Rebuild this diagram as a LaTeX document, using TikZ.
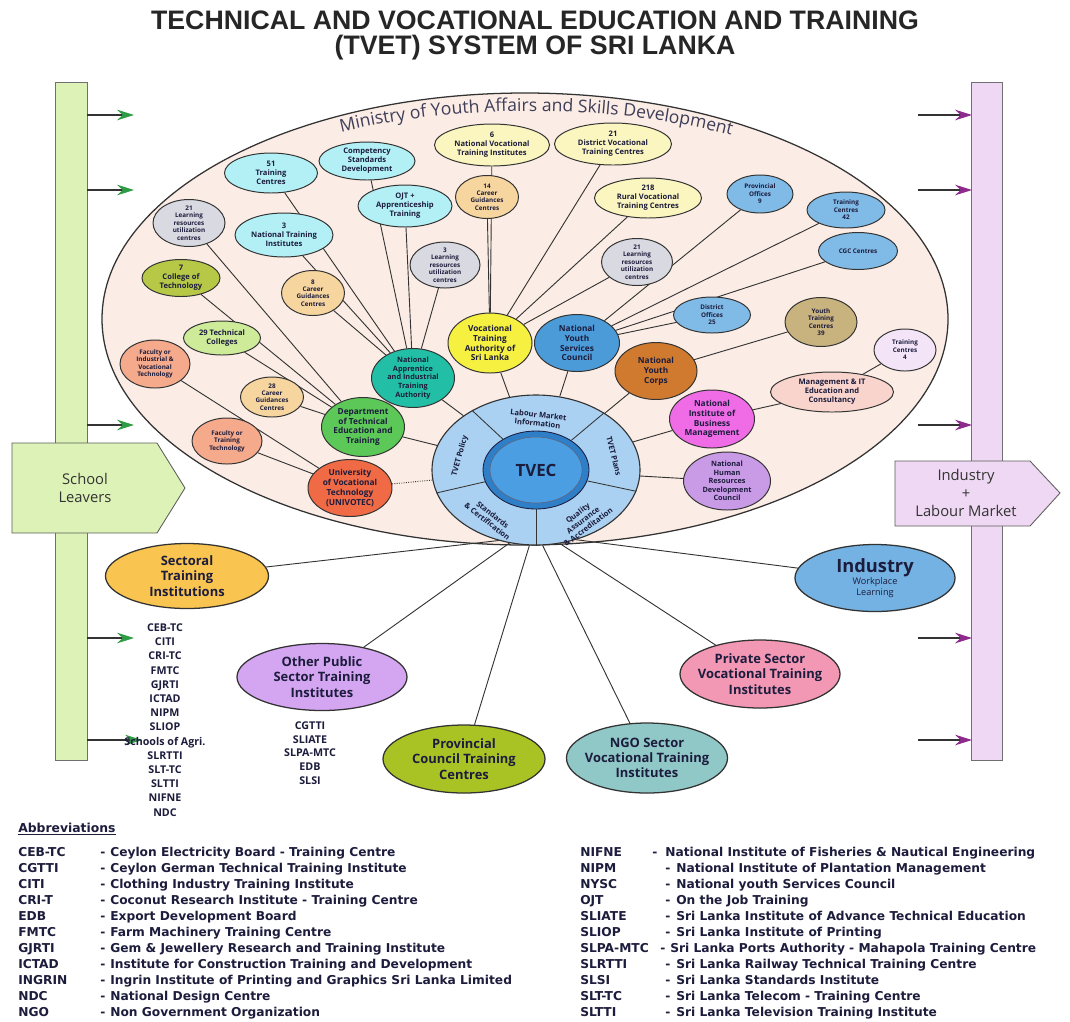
\documentclass[tikz,border=0pt]{standalone}
\usepackage{fontspec}
\setmainfont{Open Sans}
\newfontfamily\titlefont{Liberation Sans}
\newfontfamily\abbrfont{DejaVu Sans}
\usetikzlibrary{shapes.geometric,arrows.meta,decorations.text}
\definecolor{ink}{HTML}{1C1C3C}
\definecolor{edgec}{HTML}{333333}
\definecolor{minfill}{HTML}{FBEDE5}
\definecolor{cCyan}{HTML}{B2F0F6}
\definecolor{cGrey}{HTML}{D9D9E2}
\definecolor{cCream}{HTML}{FBF6BF}
\definecolor{cTan}{HTML}{F6D59F}
\definecolor{cOlive}{HTML}{B6C846}
\definecolor{cLgreen}{HTML}{CDEB98}
\definecolor{cSalmon}{HTML}{F5AA8C}
\definecolor{cGreen}{HTML}{5CC858}
\definecolor{cRed}{HTML}{EF6A45}
\definecolor{cTeal}{HTML}{22BFA6}
\definecolor{cYellow}{HTML}{F6F040}
\definecolor{cNysc}{HTML}{4C9BD9}
\definecolor{cBrown}{HTML}{CF7A2E}
\definecolor{cMagenta}{HTML}{F06CE6}
\definecolor{cLilac}{HTML}{C99AE6}
\definecolor{cSky}{HTML}{80BAE6}
\definecolor{cKhaki}{HTML}{C8B27E}
\definecolor{cLav}{HTML}{F3E4F8}
\definecolor{cPink}{HTML}{F8D4CC}
\definecolor{cSect}{HTML}{F9C44F}
\definecolor{cOpub}{HTML}{D4A6F2}
\definecolor{cProv}{HTML}{A9C324}
\definecolor{cNgo}{HTML}{90C8C8}
\definecolor{cPriv}{HTML}{F298B5}
\definecolor{cInd}{HTML}{73B2E3}
\definecolor{cRing}{HTML}{AAD1F2}
\definecolor{cBand}{HTML}{2F7FC8}
\definecolor{cCore}{HTML}{4B9EE2}
\definecolor{cLbar}{HTML}{DDF2B6}
\definecolor{cRbar}{HTML}{EFD8F3}
\definecolor{cGarrow}{HTML}{2E9B45}
\definecolor{cParrow}{HTML}{8E2A8E}
\pgfdeclarelayer{back}
\pgfdeclarelayer{links}
\pgfsetlayers{back,links,main}
\begin{document}
\begin{tikzpicture}[x=0.025cm,y=-0.025cm,
  sz/.style 2 args={minimum width=#1*0.025cm,minimum height=#2*0.025cm},
  bub/.style={ellipse,draw=edgec,line width=0.7pt,inner sep=0pt,fill=#1},
  bt/.style={align=center,text=ink,font=\fontsize{5.4}{6.3}\selectfont\bfseries,inner sep=0pt},
  bts/.style={bt,font=\fontsize{4.5}{5.3}\selectfont\bfseries},
  btm/.style={bt,font=\fontsize{5.9}{7}\selectfont\bfseries},
  btm5/.style={bt,font=\fontsize{5.2}{6.1}\selectfont\bfseries},
  link/.style={draw=edgec,line width=0.65pt},
  bigbub/.style={ellipse,draw=edgec,line width=0.9pt,inner sep=0pt,fill=#1},
  bigt/.style={align=center,text=ink,font=\fontsize{9.2}{10.8}\selectfont\bfseries,inner sep=0pt},
  indt/.style={align=center,text=ink,font=\fontsize{6.5}{7.5}\selectfont,inner sep=0pt},
  lst/.style={align=center,text=ink,font=\fontsize{7.6}{10.1}\selectfont\bfseries,inner sep=0pt},
  abbr/.style={anchor=base west,text=ink,font=\abbrfont\fontsize{8.7}{10}\selectfont\bfseries,inner sep=0pt},
  ringt/.style={align=center,text=ink,font=\fontsize{5.4}{6.2}\selectfont\bfseries,inner sep=0pt},
  arrtext/.style={align=center,text=black!80,font=\fontsize{10.5}{12.5}\selectfont,inner sep=0pt},
  garrow/.style={draw=edgec,line width=0.8pt,-{Stealth[length=12pt,width=7.5pt,color=cGarrow]}},
  parrow/.style={draw=edgec,line width=0.8pt,-{Stealth[length=12pt,width=7.5pt,color=cParrow]}},
]
\useasboundingbox (0,0) rectangle (1070,1021);
\begin{pgfonlayer}{back}
  \fill[white] (0,0) rectangle (1070,1021);
  % side bars
  \node[draw=edgec!70,line width=0.6pt,fill=cLbar,sz={32}{678},inner sep=0pt] (lbar) at (71,421) {};
  \node[draw=edgec!70,line width=0.6pt,fill=cRbar,sz={31}{678},inner sep=0pt] (rbar) at (987,421) {};
  \draw[fill=cLbar,draw=edgec!80,line width=0.6pt] (12,443) -- (157,443) -- (185,488) -- (157,533) -- (12,533) -- cycle;
  \draw[fill=cRbar,draw=edgec!80,line width=0.6pt] (895,461) -- (1030,461) -- (1060,493) -- (1030,526) -- (895,526) -- cycle;
  \foreach \i/\yy/\xe in {1/115/134,2/190/134,3/425/134,4/638/134,5/740/142}{
    \coordinate (gs\i) at (87,\yy); \coordinate (ge\i) at (\xe,\yy);
    \draw[garrow] (gs\i) -- (ge\i);
    \coordinate (ps\i) at (918,\yy); \coordinate (pe\i) at (972,\yy);
    \draw[parrow] (ps\i) -- (pe\i);
  }
  % ministry ellipse
  \node[ellipse,draw=edgec,line width=0.9pt,fill=minfill,sz={846}{452},inner sep=0pt] (minis) at (525,319) {};
  \path[decorate,decoration={text along path,text align=center,text color=ink!85,
     text={|\fontsize{12.5}{14}\selectfont|Ministry of Youth Affairs and Skills Development}}]
     (530,319) ++(232:428 and 208) arc[start angle=232,end angle=310,x radius=428,y radius=208];
\end{pgfonlayer}

% title
\node[font=\titlefont\bfseries\fontsize{19}{17.8}\selectfont,align=center,text=black!85] (title) at (535,35)
  {TECHNICAL AND VOCATIONAL EDUCATION AND TRAINING\\(TVET) SYSTEM OF SRI LANKA};
\node[arrtext] (sl) at (85,488) {School\\Leavers};
\node[arrtext] (ilm) at (966,493) {Industry\\+\\Labour Market};

% TVEC hub
\node[ellipse,draw=edgec,line width=0.8pt,fill=cRing,sz={208}{150},inner sep=0pt] (tvec) at (536,470) {};
\node[ellipse,draw=ink,line width=0.6pt,fill=cBand,sz={106}{78},inner sep=0pt] (tvecring) at (536,470) {};
\node[ellipse,draw=ink!70,line width=0.4pt,fill=cCore,sz={92}{66},inner sep=0pt,
  label={[text=ink,inner sep=0pt,font=\fontsize{12}{14}\selectfont\bfseries]center:TVEC}] (tvecin) at (536,470) {};
\foreach \a in {137,40,-12,-90,193} \draw[edgec,line width=0.6pt] (tvecring.\a) -- (tvec.\a);
\node[ringt,rotate=-6] (rlmi) at (538,419) {Labour Market\\Information};
\node[ringt,rotate=-76] (rplan) at (614,456) {TVET Plans};
\node[ringt,rotate=75] (rpol) at (460,456) {TVET Policy};
\node[ringt,rotate=-38] (rstd) at (490,518) {Standards\\\& Certification};
\node[ringt,rotate=37] (rqa) at (583,520) {Quality\\Assurance\\\& Accreditation};

% NAITA cluster
\node[bub=cCyan,sz={93}{40},label={[bt]center:{51\\Training\\Centres}}] (n51) at (271,173) {};
\node[bub=cCyan,sz={96}{38},label={[bt]center:{Competency\\Standards\\Development}}] (ncsd) at (367,161) {};
\node[bub=cCyan,sz={94}{42},label={[bt]center:{OJT +\\Apprenticeship\\Training}}] (nojt) at (405,206) {};
\node[bub=cCyan,sz={98}{44},label={[bt]center:{3\\National Training\\Institutes}}] (nnti) at (284,235) {};
\node[bub=cGrey,sz={72}{47},label={[bts]center:{21\\Learning\\resources\\utilization\\centres}}] (nlr1) at (189,223) {};
\node[bub=cGrey,sz={70}{46},label={[bts]center:{3\\Learning\\resources\\utilization\\centres}}] (nlr2) at (445,265) {};
\node[bub=cGrey,sz={71}{47},label={[bts]center:{21\\Learning\\resources\\utilization\\centres}}] (nlr3) at (637,262) {};
\node[bub=cCream,sz={115}{42},label={[bt]center:{6\\National Vocational\\Training Institutes}}] (nnvti) at (492,145) {};
\node[bub=cCream,sz={117}{42},label={[bt]center:{21\\District Vocational\\Training Centres}}] (ndvtc) at (613,144) {};
\node[bub=cCream,sz={107}{40},label={[bt]center:{218\\Rural Vocational\\Training Centres}}] (nrvtc) at (648,198) {};
\node[bub=cTan,sz={63}{43},label={[bts]center:{14\\Career\\Guidances\\Centres}}] (ncg14) at (487,197) {};
\node[bub=cTan,sz={63}{45},label={[bts]center:{8\\Career\\Guidances\\Centres}}] (ncg8) at (313,293) {};
\node[bub=cTan,sz={63}{40},label={[bts]center:{28\\Career\\Guidances\\Centres}}] (ncg28) at (272,397) {};
\node[bub=cOlive,sz={78}{37},label={[bt]center:{7\\College of\\Technology}}] (ncot) at (181,278) {};
\node[bub=cLgreen,sz={77}{34},label={[bt]center:{29 Technical\\Colleges}}] (ntc29) at (222,338) {};
\node[bub=cSalmon,sz={70}{48},label={[bts]center:{Faculty or\\Industrial \&\\Vocational\\Technology}}] (nfiv) at (155,364) {};
\node[bub=cSalmon,sz={70}{46},label={[bts]center:{Faculty or\\Training\\Technology}}] (nftt) at (227,441) {};

% main agencies
\node[bub=cGreen,sz={83}{59},label={[btm]center:{Department\\of Technical\\Education and\\Training}}] (dtet) at (363,427) {};
\node[bub=cRed,sz={84}{57},label={[btm]center:{University\\of Vocational\\Technology\\(UNIVOTEC)}}] (univ) at (350,488) {};
\node[bub=cTeal,sz={83}{59},label={[btm5]center:{National\\Apprentice\\and Industrial\\Training\\Authority}}] (naita) at (413,378) {};
\node[bub=cYellow,sz={84}{60},label={[btm]center:{Vocational\\Training\\Authority of\\Sri Lanka}}] (vta) at (490,343) {};
\node[bub=cNysc,sz={85}{57},label={[btm]center:{National\\Youth\\Services\\Council}}] (nysc) at (577,343) {};
\node[bub=cBrown,sz={82}{57},label={[btm]center:{National\\Youth\\Corps}}] (nyc) at (656,371) {};
\node[bub=cMagenta,sz={85}{58},label={[btm]center:{National\\Institute of\\Business\\Management}}] (nibm) at (712,419) {};
\node[bub=cLilac,sz={87}{58},label={[btm5]center:{National\\Human\\Resources\\Development\\Council}}] (nhrdc) at (727,481) {};

% NYSC / others cluster
\node[bub=cSky,sz={66}{38},label={[bts]center:{Provincial\\Offices\\9}}] (npo) at (760,194) {};
\node[bub=cSky,sz={78}{36},label={[bts]center:{Training\\Centres\\42}}] (ntc42) at (846,210) {};
\node[bub=cSky,sz={79}{37},label={[bts]center:{CGC Centres}}] (ncgc) at (858,251) {};
\node[bub=cSky,sz={77}{36},label={[bts]center:{District\\Offices\\25}}] (ndo) at (712,315) {};
\node[bub=cKhaki,sz={72}{49},label={[bts]center:{Youth\\Training\\Centres\\39}}] (nytc) at (821,322) {};
\node[bub=cLav,sz={62}{42},label={[bts]center:{Training\\Centres\\4}}] (ntc4) at (905,350) {};
\node[bub=cPink,sz={123}{40},label={[bt]center:{Management \& IT\\Education and\\Consultancy}}] (nmit) at (832,392) {};

% outer sectors
\node[bigbub=cSect,sz={163}{65},label={[bigt]center:{Sectoral\\Training\\Institutions}}] (sect) at (187,576) {};
\node[bigbub=cOpub,sz={170}{67},label={[bigt]center:{Other Public\\Sector Training\\Institutes}}] (opub) at (322,677) {};
\node[bigbub=cProv,sz={162}{68},label={[bigt]center:{Provincial\\Council Training\\Centres}}] (prov) at (464,759) {};
\node[bigbub=cNgo,sz={161}{70},label={[bigt]center:{NGO Sector\\Vocational Training\\Institutes}}] (ngo) at (647,758) {};
\node[bigbub=cPriv,sz={160}{68},label={[bigt]center:{Private Sector\\Vocational Training\\Institutes}}] (priv) at (760,674) {};
\node[bigbub=cInd,sz={160}{67},label={[indt]center:{\fontsize{13}{14}\selectfont\bfseries Industry\\Workplace\\Learning}}] (ind) at (875,578) {};

\node[lst] (slist) at (165,720) {CEB-TC\\CITI\\CRI-TC\\FMTC\\GJRTI\\ICTAD\\NIPM\\SLIOP\\Schools of Agri.\\SLRTTI\\SLT-TC\\SLTTI\\NIFNE\\NDC};
\node[lst,font=\fontsize{7.6}{9.75}\selectfont\bfseries] (olist) at (310,753) {CGTTI\\SLIATE\\SLPA-MTC\\EDB\\SLSI};

% connectors
\begin{pgfonlayer}{links}
  \foreach \s in {n51,ncsd,nojt,nnti,ncg8,nlr2} \draw[link] (\s) -- (naita);
  \foreach \s in {nlr1,ncot,ntc29,ncg28} \draw[link] (\s) -- (dtet);
  \foreach \s in {nnvti,ndvtc,nrvtc,ncg14,nlr3} \draw[link] (\s) -- (vta);
  \foreach \s in {npo,ntc42,ncgc,ndo} \draw[link] (\s) -- (nysc);
  \draw[link] (nytc) -- (nyc);
  \draw[link] (nmit) -- (nibm);
  \draw[link] (ntc4) -- (nmit);
  \draw[link] (nfiv) -- (univ);
  \draw[link] (nftt) -- (univ);
  \foreach \s in {naita,dtet,vta,nysc,nyc,nibm,nhrdc} \draw[link] (\s) -- (tvec);
  \draw[link,densely dotted] (univ) -- (tvec);
  \draw[link] (sect) -- (tvec.-118);
  \draw[link] (opub) -- (tvec.-110);
  \draw[link] (prov) -- (tvec.-95);
  \draw[link] (ngo) -- (tvec.-85);
  \draw[link] (priv) -- (tvec.-72);
  \draw[link] (ind) -- (tvec.-60);
\end{pgfonlayer}

% abbreviations
\node[abbr,font=\abbrfont\fontsize{8.8}{10}\selectfont\bfseries] (abh) at (18,832) {\underline{Abbreviations}};
\foreach \a/\d [count=\i from 0] in {CEB-TC/Ceylon Electricity Board - Training Centre,
  CGTTI/Ceylon German Technical Training Institute,
  CITI/Clothing Industry Training Institute,
  CRI-T/Coconut Research Institute - Training Centre,
  EDB/Export Development Board,
  FMTC/Farm Machinery Training Centre,
  GJRTI/Gem \& Jewellery Research and Training Institute,
  ICTAD/Institute for Construction Training and Development,
  INGRIN/Ingrin Institute of Printing and Graphics Sri Lanka Limited,
  NDC/National Design Centre,
  NGO/Non Government Organization}{
  \node[abbr] (la\i) at (18,{856+16*\i}) {\a};
  \node[abbr] (lm\i) at (100,{856+16*\i}) {-};
  \node[abbr] (ld\i) at (110,{856+16*\i}) {\d};
}
\foreach \a/\dx/\tx/\d [count=\i from 0] in {NIFNE/652/665/National Institute of Fisheries \& Nautical Engineering,
  NIPM/665/676/National Institute of Plantation Management,
  NYSC/665/676/National youth Services Council,
  OJT/665/676/On the Job Training,
  SLIATE/665/676/Sri Lanka Institute of Advance Technical Education,
  SLIOP/665/676/Sri Lanka Institute of Printing,
  SLPA-MTC/660/670/Sri Lanka Ports Authority - Mahapola Training Centre,
  SLRTTI/665/676/Sri Lanka Railway Technical Training Centre,
  SLSI/665/676/Sri Lanka Standards Institute,
  SLT-TC/665/676/Sri Lanka Telecom - Training Centre,
  SLTTI/665/676/Sri Lanka Television Training Institute}{
  \node[abbr] (ra\i) at (580,{856+16*\i}) {\a};
  \node[abbr] (rm\i) at (\dx,{856+16*\i}) {-};
  \node[abbr] (rd\i) at (\tx,{856+16*\i}) {\d};
}
\end{tikzpicture}
\end{document}
